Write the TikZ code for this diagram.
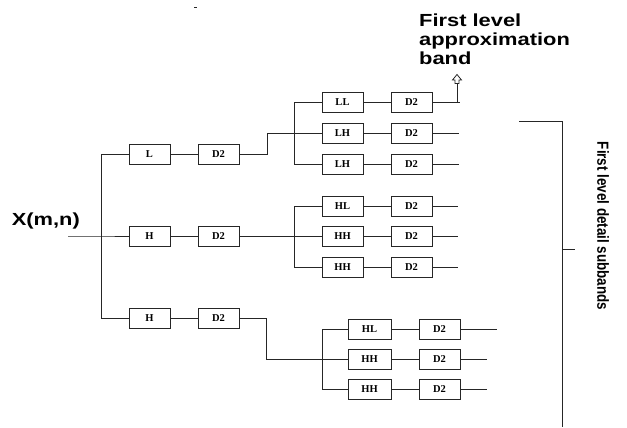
\documentclass[tikz,border=0pt]{standalone}
\usepackage{fontspec}
\setmainfont{Liberation Serif}
\setsansfont{Liberation Sans}
\usetikzlibrary{arrows.meta}
\begin{document}
\begin{tikzpicture}[x=1pt,y=-1pt,
  blk/.style={draw=black!85, line width=0.9pt, minimum width=41pt, minimum height=20pt, inner sep=0pt,
    font=\rmfamily\bfseries\fontsize{10.5}{11}\selectfont},
  wblk/.style={blk, minimum width=43pt},
  wire/.style={draw=black!85, line width=0.9pt},
  bigtxt/.style={font=\sffamily\bfseries\fontsize{17.5}{18.8}\selectfont, inner sep=0pt}]
\useasboundingbox (0,0) rectangle (627,428);
\fill[white] (0,0) rectangle (627,428);
% tiny mark
\draw[wire, line width=0.8pt] (194,7) -- (196.5,7);

% ---------- level 1 ----------
\node[blk] (L)   at (149.5,154) {L};
\node[blk] (Ld)  at (218.5,154) {D2};
\node[blk] (H1)  at (149.5,236) {H};
\node[blk] (H1d) at (218.5,236) {D2};
\node[blk] (H2)  at (149.5,318) {H};
\node[blk] (H2d) at (218.5,318) {D2};

\node[bigtxt, anchor=base east] (xin) at (80,225) {\scalebox{1.25}[1]{X(m,n)}};
\coordinate (in) at (68,236);
\coordinate (b1) at (101,236);
\draw[wire] (in) -- (b1) -- (H1.west);
\draw[wire] (L.west) -- (L.west -| b1) -- (H2.west -| b1) -- (H2.west);
\draw[wire] (L) -- (Ld);
\draw[wire] (H1) -- (H1d);
\draw[wire] (H2) -- (H2d);

% ---------- group A ----------
\node[blk] (LL)   at (342.5,102.5) {LL};
\node[blk] (LLd)  at (411.5,102.5) {D2};
\node[blk] (LHa)  at (342.5,133.5) {LH};
\node[blk] (LHad) at (411.5,133.5) {D2};
\node[blk] (LHb)  at (342.5,164)   {LH};
\node[blk] (LHbd) at (411.5,164)   {D2};
\coordinate (bA) at (294,133.5);
\draw[wire] (Ld.east) -- ++(28,0) |- (LHa.west);
\draw[wire] (LL.west) -- (LL.west -| bA) -- (LHb.west -| bA) -- (LHb.west);
\draw[wire] (LL) -- (LLd);
\draw[wire] (LHa) -- (LHad);
\draw[wire] (LHb) -- (LHbd);
\coordinate (aout) at (457,102.5);
\coordinate (aend) at (460,102.5);
\coordinate (astem) at (457,83);
\draw[wire] (LLd.east) -- (aend);
\draw[wire] (aout) -- (astem);
% hollow up-arrow head
\draw[wire, line width=0.8pt, fill=white] (457,74.5) -- (461.5,80) -- (459,80) -- (459,83.5)
  -- (455,83.5) -- (455,80) -- (452.5,80) -- cycle;
\coordinate (oA2) at (459,133.5);
\coordinate (oA3) at (459,164);
\draw[wire] (LHad.east) -- (oA2);
\draw[wire] (LHbd.east) -- (oA3);

% ---------- group B ----------
\node[blk] (HLb)  at (342.5,206) {HL};
\node[blk] (HLbd) at (411.5,206) {D2};
\node[blk] (HHb)  at (342.5,236) {HH};
\node[blk] (HHbd) at (411.5,236) {D2};
\node[blk] (HHc)  at (342.5,267) {HH};
\node[blk] (HHcd) at (411.5,267) {D2};
\coordinate (bB) at (294,236);
\draw[wire] (H1d.east) -- (HHb.west);
\draw[wire] (HLb.west) -- (HLb.west -| bB) -- (HHc.west -| bB) -- (HHc.west);
\draw[wire] (HLb) -- (HLbd);
\draw[wire] (HHb) -- (HHbd);
\draw[wire] (HHc) -- (HHcd);
\coordinate (oB1) at (458,206);
\coordinate (oB2) at (458,236);
\coordinate (oB3) at (458,267);
\draw[wire] (HLbd.east) -- (oB1);
\draw[wire] (HHbd.east) -- (oB2);
\draw[wire] (HHcd.east) -- (oB3);

% ---------- group C ----------
\node[wblk] (HLc)  at (369.5,329) {HL};
\node[blk]  (HLcd) at (439.5,329) {D2};
\node[wblk] (HHd)  at (369.5,359) {HH};
\node[blk]  (HHdd) at (439.5,359) {D2};
\node[wblk] (HHe)  at (369.5,389) {HH};
\node[blk]  (HHed) at (439.5,389) {D2};
\coordinate (bC) at (322,359);
\draw[wire] (H2d.east) -- ++(27,0) |- (HHd.west);
\draw[wire] (HLc.west) -- (HLc.west -| bC) -- (HHe.west -| bC) -- (HHe.west);
\draw[wire] (HLc) -- (HLcd);
\draw[wire] (HHd) -- (HHdd);
\draw[wire] (HHe) -- (HHed);
\coordinate (oC1) at (497,329);
\coordinate (oC2) at (487,359);
\coordinate (oC3) at (487,389);
\draw[wire] (HLcd.east) -- (oC1);
\draw[wire] (HHdd.east) -- (oC2);
\draw[wire] (HHed.east) -- (oC3);

% ---------- labels and bracket ----------
\node[bigtxt, anchor=base west] (apx) at (419,27)
  {\scalebox{1.25}[1]{\begin{tabular}[t]{@{}l@{}}First level\\approximation\\band\end{tabular}}};
\coordinate (br1) at (519,121);
\coordinate (br2) at (562,121);
\coordinate (br3) at (562,427);
\coordinate (brm) at (562,249);
\coordinate (brt) at (575,249);
\draw[wire] (br1) -- (br2) -- (br3);
\draw[wire] (brm) -- (brt);
\node[font=\sffamily\bfseries\fontsize{13.4}{15}\selectfont, rotate=-90, inner sep=0pt] (det) at (603,226)
  {\scalebox{1}[1.2]{First level detail subbands}};
\end{tikzpicture}
\end{document}
